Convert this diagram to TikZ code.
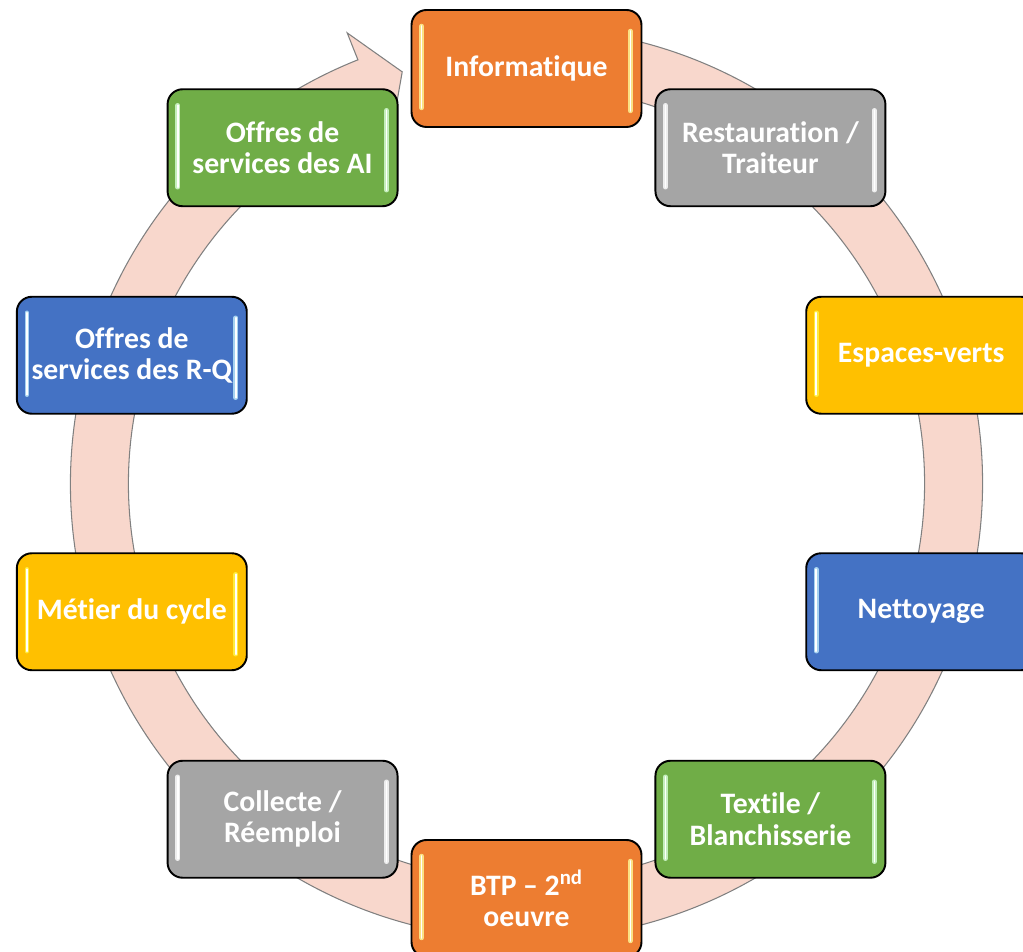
\documentclass[tikz,border=0pt]{standalone}
\usepackage{fontspec}
\setmainfont{Carlito}[Ligatures={TeX,NoCommon}]
\usetikzlibrary{calc}
\definecolor{accorange}{HTML}{ED7D31}
\definecolor{accgray}{HTML}{A5A5A5}
\definecolor{accyellow}{HTML}{FFC000}
\definecolor{accblue}{HTML}{4472C4}
\definecolor{accgreen}{HTML}{70AD47}
\definecolor{ringfill}{RGB}{248,215,204}
\def\glints#1#2{%
  \draw[glow=#2] ($(#1.north west)+(11,-17)$) -- ($(#1.south west)+(11,20)$);
  \draw[core] ($(#1.north west)+(11,-17)$) -- ($(#1.south west)+(11,20)$);
  \draw[glow=#2] ($(#1.north east)+(-12,-22)$) -- ($(#1.south east)+(-12,17)$);
  \draw[core] ($(#1.north east)+(-12,-22)$) -- ($(#1.south east)+(-12,17)$);}

\begin{document}
\begin{tikzpicture}[x=0.02cm, y=0.02cm,
    box/.style={draw=black, line width=1.1pt, rounded corners=0.3cm, fill=#1,
      minimum width=4.6cm, minimum height=2.34cm, inner sep=0pt, align=center,
      text=white, font=\bfseries\fontsize{16.9}{17.8}\selectfont},
    ring/.style={fill=ringfill, draw=gray, line width=0.6pt},
    glow/.style={draw=#1, line width=2.6pt, line cap=round, opacity=0.8},
    core/.style={draw=white, line width=1pt, line cap=round}]
	%%%%% FRAME %%%%%
	\useasboundingbox (-526.5,-468.5) rectangle (496.5,483.5);
	
	%%%%% RING %%%%%
	\draw[ring] (80:456) arc[start angle=80, end angle=-248.3, radius=456]
		-- (-248.3:485) -- (-253.2:430) -- (-248.3:369) -- (-248.3:398)
		arc[start angle=-248.3, end angle=80, radius=398] -- cycle;
	
	%%%%% BOXES %%%%%
	\node[box=accorange] (info) at (90:415) {Informatique};
	\node[box=accgray] (resto) at (54:415) {Restauration /\\Traiteur};
	\node[box=accyellow] (verts) at (18:415) {Espaces-verts};
	\node[box=accblue] (nett) at (-18:415) {Nettoyage};
	\node[box=accgreen] (textile) at (-54:415) {Textile /\\Blanchisserie};
	\node[box=accorange] (btp) at (-90:415) {BTP -- 2\textsuperscript{nd}\\oeuvre};
	\node[box=accgray] (collecte) at (-126:415) {Collecte /\\Réemploi};
	\node[box=accyellow] (metier) at (-162:415) {Métier du cycle};
	\node[box=accblue] (rq) at (162:415) {Offres de\\services des R-Q};
	\node[box=accgreen] (ai) at (126:415) {Offres de\\services des AI};
	
	%%%%% HIGHLIGHTS %%%%%
	\foreach \n/\c in {info/yellow!40, btp/yellow!40, resto/white, collecte/white,
		verts/yellow!70, metier/yellow!70, nett/cyan!25, rq/cyan!25,
		textile/green!15, ai/green!15}
		{\glints{\n}{\c}}
\end{tikzpicture}
\end{document}
